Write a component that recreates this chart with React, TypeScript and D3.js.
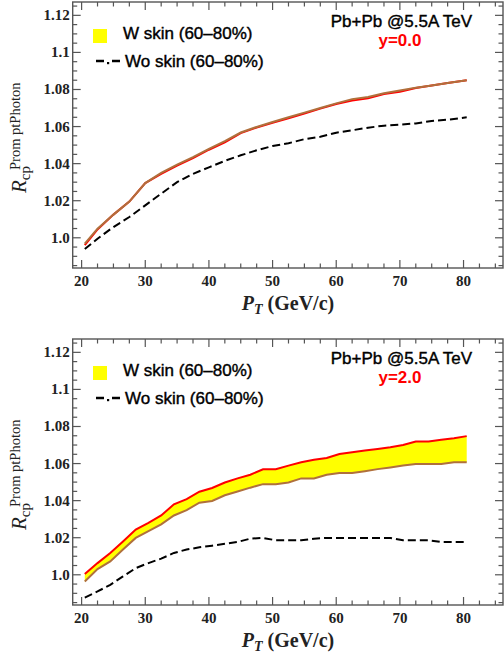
// Rcp of prompt photons, Pb+Pb @ 5.5A TeV, two rapidity panels
import { useEffect, useRef } from 'react';
import * as d3 from 'd3';

// ---- data ----
// panel 1 : y = 0.0
const ptTop = [20.5, 22.5, 25, 27.5, 30, 32.5, 35, 37.5, 40, 42.5, 45, 47.5, 50, 52.5, 55, 57.5, 60, 62.5, 65, 67.5, 70, 72.5, 75, 77.5, 80.5];
const upperTop = [0.9960, 1.0045, 1.0125, 1.0195, 1.0295, 1.0345, 1.0390, 1.0430, 1.0475, 1.0515, 1.0565, 1.0595, 1.0620, 1.0645, 1.0670, 1.0697, 1.0722, 1.0740, 1.0752, 1.0775, 1.0788, 1.0808, 1.0822, 1.0835, 1.0850];
const lowerTop = [0.9968, 1.0049, 1.0125, 1.0195, 1.0295, 1.0350, 1.0395, 1.0435, 1.0480, 1.0522, 1.0568, 1.0598, 1.0625, 1.0650, 1.0675, 1.0700, 1.0725, 1.0748, 1.0760, 1.0780, 1.0795, 1.0810, 1.0822, 1.0835, 1.0850];
const woTop = [0.9940, 0.9995, 1.0058, 1.0112, 1.0175, 1.0238, 1.0300, 1.0345, 1.0380, 1.0415, 1.0445, 1.0472, 1.0495, 1.0510, 1.0532, 1.0545, 1.0567, 1.0580, 1.0594, 1.0605, 1.0610, 1.0617, 1.0630, 1.0637, 1.0650];

// panel 2 : y = 2.0
const ptBot = [20.5, 22.5, 24.5, 26.5, 28.5, 30.5, 32.5, 34.5, 36.5, 38.5, 40.5, 42.5, 44.5, 46.5, 48.5, 50.5, 52.5, 54.5, 56.5, 58.5, 60.5, 62.5, 64.5, 66.5, 68.5, 70.5, 72.5, 74.5, 76.5, 78.5, 80.5];
const upperBot = [1.0004, 1.0063, 1.0118, 1.0180, 1.0244, 1.0280, 1.0320, 1.0380, 1.0408, 1.0448, 1.0468, 1.0498, 1.0520, 1.0540, 1.0569, 1.0569, 1.0589, 1.0607, 1.0620, 1.0630, 1.0652, 1.0661, 1.0670, 1.0679, 1.0688, 1.0700, 1.0719, 1.0719, 1.0728, 1.0737, 1.0748];
const lowerBot = [0.9964, 1.0031, 1.0072, 1.0136, 1.0199, 1.0235, 1.0272, 1.0320, 1.0349, 1.0389, 1.0398, 1.0429, 1.0449, 1.0470, 1.0489, 1.0489, 1.0498, 1.0520, 1.0520, 1.0540, 1.0549, 1.0549, 1.0559, 1.0570, 1.0579, 1.0589, 1.0598, 1.0598, 1.0598, 1.0607, 1.0607];
const woBot = [0.9877, 0.9910, 0.9946, 0.9991, 1.0036, 1.0063, 1.0087, 1.0118, 1.0136, 1.0148, 1.0157, 1.0167, 1.0177, 1.0195, 1.0199, 1.0186, 1.0186, 1.0186, 1.0195, 1.0199, 1.0199, 1.0199, 1.0199, 1.0199, 1.0199, 1.0186, 1.0186, 1.0186, 1.0177, 1.0177, 1.0177];

// axis ticks
const xMajor = [20, 30, 40, 50, 60, 70, 80];
const yMajor = [1.0, 1.02, 1.04, 1.06, 1.08, 1.1, 1.12];
const yMajorLabels = ['1.0', '1.02', '1.04', '1.06', '1.08', '1.1', '1.12'];

const legendW = 'W skin (60\u201380%)';
const legendWo = 'Wo skin (60\u201380%)';
const titleText = 'Pb+Pb @5.5A TeV';
const rapidity = ['y=0.0', 'y=2.0'];

const W = 504;
const H = 658;
const serif = "'Liberation Serif', 'DejaVu Serif', serif";
const sans = "'Liberation Sans', Arial, sans-serif";
const frameColor = '#555';
const brown = '#b0703c';

const App = () => {
    const svgRef = useRef<SVGSVGElement>(null);

    useEffect(() => {
        const svg = d3.select(svgRef.current);
        svg.selectAll('*').remove();

        const panels = [
            { top: 2, pt: ptTop, upper: upperTop, lower: lowerTop, wo: woTop, label: rapidity[0], legY: 29 },
            { top: 339, pt: ptBot, upper: upperBot, lower: lowerBot, wo: woBot, label: rapidity[1], legY: 366 },
        ];

        const left = 72.7;
        const right = 503;
        const plotH = 266;

        panels.forEach((p) => {
            const g = svg.append('g');
            const x = d3.scaleLinear().domain([18.6, 86.2]).range([left, right]);
            const y = d3.scaleLinear().domain([0.9837, 1.1272]).range([p.top + plotH, p.top]);
            const bottom = p.top + plotH;

            // yellow band between the two W-skin curves
            const band = p.pt.map((v, i) => ({ x: v, hi: p.upper[i], lo: p.lower[i] }));
            g.append('path')
                .datum(band)
                .attr('d', d3.area<any>().x(d => x(d.x)).y0(d => y(d.lo)).y1(d => y(d.hi)))
                .attr('fill', '#ffff00');

            const line = d3.line<[number, number]>().x(d => x(d[0])).y(d => y(d[1]));
            const pairs = (arr: number[]) => p.pt.map((v, i) => [v, arr[i]] as [number, number]);

            g.append('path').attr('d', line(pairs(p.upper))).attr('fill', 'none').attr('stroke', '#ff0000').attr('stroke-width', 2);
            g.append('path').attr('d', line(pairs(p.lower))).attr('fill', 'none').attr('stroke', brown).attr('stroke-width', 2);
            g.append('path').attr('d', line(pairs(p.wo))).attr('fill', 'none').attr('stroke', '#000').attr('stroke-width', 2)
                .attr('stroke-dasharray', '8,4');

            // frame
            g.append('rect')
                .attr('x', left).attr('y', p.top).attr('width', right - left).attr('height', plotH)
                .attr('fill', 'none').attr('stroke', frameColor).attr('stroke-width', 1.4);

            // ticks on all four sides, pointing inward
            const xTicks = d3.range(20, 86.2, 2.5);
            xTicks.forEach((t) => {
                const len = xMajor.includes(t) ? 8 : 4.5;
                g.append('line').attr('x1', x(t)).attr('x2', x(t)).attr('y1', bottom).attr('y2', bottom - len)
                    .attr('stroke', frameColor).attr('stroke-width', 1.2);
                g.append('line').attr('x1', x(t)).attr('x2', x(t)).attr('y1', p.top).attr('y2', p.top + len)
                    .attr('stroke', frameColor).attr('stroke-width', 1.2);
            });
            const yTicks = d3.range(0, 29).map(i => 0.985 + i * 0.005).filter(v => v < 1.127);
            yTicks.forEach((t) => {
                const major = yMajor.some(m => Math.abs(m - t) < 1e-6);
                const len = major ? 8 : 4.5;
                g.append('line').attr('x1', left).attr('x2', left + len).attr('y1', y(t)).attr('y2', y(t))
                    .attr('stroke', frameColor).attr('stroke-width', 1.2);
                g.append('line').attr('x1', right).attr('x2', right - len).attr('y1', y(t)).attr('y2', y(t))
                    .attr('stroke', frameColor).attr('stroke-width', 1.2);
            });

            // tick labels
            xMajor.forEach((t) => {
                g.append('text').attr('x', x(t)).attr('y', bottom + 17.5)
                    .attr('text-anchor', 'middle').attr('font-family', serif).attr('font-weight', 'bold')
                    .attr('font-size', 15).attr('fill', '#222').text(t);
            });
            yMajor.forEach((t, i) => {
                g.append('text').attr('x', left - 3).attr('y', y(t) + 5)
                    .attr('text-anchor', 'end').attr('font-family', serif).attr('font-weight', 'bold')
                    .attr('font-size', 15).attr('fill', '#222').text(yMajorLabels[i]);
            });

            // x axis title
            const xt = g.append('text').attr('x', 288).attr('y', p.top + 308)
                .attr('text-anchor', 'middle').attr('font-family', serif).attr('font-weight', 'bold')
                .attr('font-size', 20).attr('fill', '#222');
            xt.append('tspan').attr('font-style', 'italic').text('P');
            xt.append('tspan').attr('font-style', 'italic').attr('font-size', 14).attr('dy', 4).text('T');
            xt.append('tspan').attr('dy', -4).text(' (GeV/c)');

            // y axis title (rotated)
            const yt = g.append('text')
                .attr('transform', `translate(25.5,${p.top + 191}) rotate(-90)`)
                .attr('font-family', serif).attr('fill', '#222');
            yt.append('tspan').attr('font-style', 'italic').attr('font-size', 21).text('R');
            yt.append('tspan').attr('font-size', 15).attr('dy', 4).text('cp');
            yt.append('tspan').attr('font-size', 14.5).attr('dx', -4).attr('dy', -10).text('Prom ptPhoton');

            // legend
            g.append('rect').attr('x', 93).attr('y', p.legY).attr('width', 14).attr('height', 14).attr('fill', '#ffff00');
            g.append('text').attr('x', 123).attr('y', p.legY + 9.5)
                .attr('font-family', sans).attr('font-size', 17).attr('fill', '#000')
                .attr('stroke', '#000').attr('stroke-width', 0.4)
                .text(legendW);
            const ly = p.legY + 32;
            g.append('line').attr('x1', 96).attr('x2', 104).attr('y1', ly).attr('y2', ly).attr('stroke', '#000').attr('stroke-width', 2.5);
            g.append('rect').attr('x', 107).attr('y', ly + 1).attr('width', 2.2).attr('height', 2.2).attr('fill', '#000');
            g.append('line').attr('x1', 112).attr('x2', 120).attr('y1', ly).attr('y2', ly).attr('stroke', '#000').attr('stroke-width', 2.5);
            g.append('text').attr('x', 125).attr('y', ly + 6)
                .attr('font-family', sans).attr('font-size', 17).attr('fill', '#000')
                .attr('stroke', '#000').attr('stroke-width', 0.4).text(legendWo);

            // collision label
            g.append('text').attr('x', 472).attr('y', p.top + 25).attr('text-anchor', 'end')
                .attr('font-family', sans).attr('font-size', 17).attr('fill', '#000')
                .attr('stroke', '#000').attr('stroke-width', 0.4).text(titleText);
            g.append('text').attr('x', 400).attr('y', p.top + 43.5).attr('text-anchor', 'middle')
                .attr('font-family', sans).attr('font-weight', 'bold').attr('font-size', 17).attr('fill', '#ff0000').text(p.label);
        });

        return () => { svg.selectAll('*').remove(); };
    }, []);

    return (
        <div style={{ position: 'absolute', left: 0, top: 0, width: W, height: H, background: '#fff' }}>
            <svg ref={svgRef} width={W} height={H} style={{ display: 'block' }}></svg>
        </div>
    );
};

export default App;
